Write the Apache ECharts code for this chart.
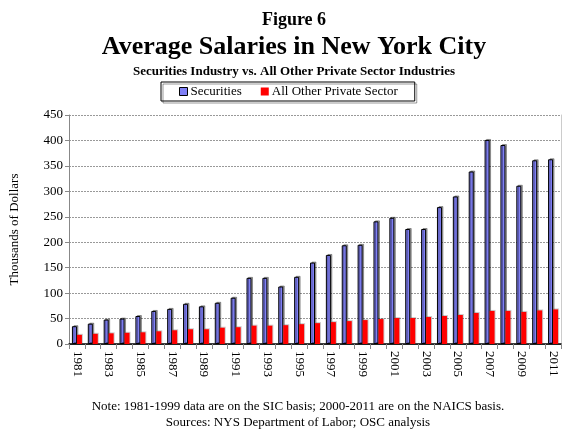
<!DOCTYPE html>
<html>
<head>
<meta charset="utf-8">
<script src="https://cdn.jsdelivr.net/npm/echarts@6/dist/echarts.min.js"></script>
<style>html,body{margin:0;padding:0;background:#fff}#c{width:563px;height:429px}</style>
</head>
<body>
<div id="c"></div>
<script>
var years = ['1981','1982','1983','1984','1985','1986','1987','1988','1989','1990','1991','1992','1993','1994','1995','1996','1997','1998','1999','2000','2001','2002','2003','2004','2005','2006','2007','2008','2009','2010','2011'];
var securities = [35,40,48,50,55,65,69,79,74,81,91,130,130,113,132,160,175,194,195,241,248,226,226,269,290,339,401,391,311,361,363];
var otherPrivate = [18,20,21,22,23,25,27,29,29,32,33,36,36,37,39,41,43,45,47,49,51,51,53,55,57,61,65,65,63,66,68];
var yTicks = [0,50,100,150,200,250,300,350,400,450];

var font = 'Liberation Serif, Times New Roman, serif';
var chart = echarts.init(document.getElementById('c'));
chart.setOption({
  animation: false,
  textStyle: {fontFamily: font, color: '#000'},
  title: [
    {text: 'Figure 6', left: 289, textAlign: 'center', top: 6, textStyle: {fontFamily: font, fontSize: 18, fontWeight: 'bold', color: '#000'}},
    {text: 'Average Salaries in New York City', left: 289, textAlign: 'center', top: 29, textStyle: {fontFamily: font, fontSize: 26, fontWeight: 'bold', color: '#000'}},
    {text: 'Securities Industry vs. All Other Private Sector Industries', left: 289, textAlign: 'center', top: 60, textStyle: {fontFamily: font, fontSize: 13, fontWeight: 'bold', color: '#000'}},
    {text: 'Note: 1981-1999 data are on the SIC basis; 2000-2011 are on the NAICS basis.', left: 293, textAlign: 'center', top: 395, textStyle: {fontFamily: font, fontSize: 13, fontWeight: 'normal', color: '#000'}},
    {text: 'Sources: NYS Department of Labor; OSC analysis', left: 293, textAlign: 'center', top: 411, textStyle: {fontFamily: font, fontSize: 13, fontWeight: 'normal', color: '#000'}}
  ],
  legend: {
    left: 161, top: 82, width: 253,
    padding: [3, 17, 3, 18],
    itemWidth: 8, itemHeight: 8, itemGap: 19,
    borderColor: '#000', borderWidth: 1,
    shadowColor: 'rgba(0,0,0,0.4)', shadowOffsetX: 2, shadowOffsetY: 2,
    textStyle: {fontFamily: font, fontSize: 13, color: '#000', padding: [0,0,0,-2]},
    data: [
      {name: 'Securities', icon: 'rect', itemStyle: {borderColor: '#000', borderWidth: 1}},
      {name: 'All Other Private Sector', icon: 'rect'}
    ]
  },
  grid: {left: 68, right: 2, top: 115, bottom: 85},
  xAxis: [{
    type: 'category', data: years, position: 'bottom',
    axisLine: {lineStyle: {color: '#888', width: 1}},
    axisTick: {show: true, alignWithLabel: false, interval: 0, length: 5, lineStyle: {color: '#888'}},
    axisLabel: {interval: 1, rotate: -90, fontFamily: font, fontSize: 13, color: '#000', margin: 7}
  }, {
    type: 'category', data: years, position: 'top',
    axisLine: {lineStyle: {color: '#000', width: 1.5}},
    axisTick: {show: false}, axisLabel: {show: false}
  }],
  yAxis: [{
    type: 'value', min: 0, max: 450, interval: 50,
    name: 'Thousands of Dollars', nameLocation: 'middle', nameGap: 48, nameRotate: 90,
    nameTextStyle: {fontFamily: font, fontSize: 13, color: '#000'},
    axisLine: {show: true, lineStyle: {color: '#888'}},
    axisTick: {show: true, length: 4, lineStyle: {color: '#888'}},
    axisLabel: {fontFamily: font, fontSize: 13, color: '#000', margin: 6,
      formatter: function (v) { return yTicks.indexOf(v) >= 0 ? String(v) : ''; }},
    splitLine: {show: true, lineStyle: {color: '#999', type: [2, 1], width: 1}}
  }, {
    type: 'value', min: 0, max: 450, interval: 50, position: 'right',
    axisLine: {show: true, lineStyle: {color: '#ccc'}},
    axisTick: {show: false}, axisLabel: {show: false}, splitLine: {show: false}
  }],
  series: [{
    name: 'Securities', type: 'bar', data: securities, barWidth: 5, barGap: '0%',
    itemStyle: {color: '#7f7ff5', borderColor: '#000', borderWidth: 1,
      shadowColor: 'rgba(0,0,0,0.35)', shadowOffsetX: 1.5, shadowOffsetY: -1}
  }, {
    name: 'All Other Private Sector', type: 'bar', data: otherPrivate, barWidth: 5, barGap: '0%',
    itemStyle: {color: '#ff0000',
      shadowColor: 'rgba(0,0,0,0.2)', shadowOffsetX: 1, shadowOffsetY: -1}
  }]
});
</script>
</body>
</html>
